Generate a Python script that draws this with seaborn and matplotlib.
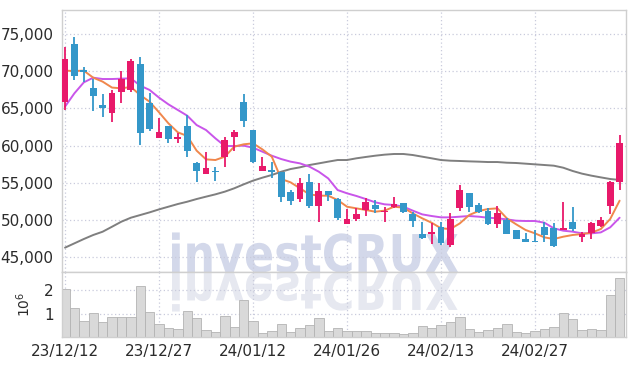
import numpy as np
import pandas as pd
import matplotlib
matplotlib.use("Agg")
import matplotlib.pyplot as plt
import seaborn as sns
from matplotlib.textpath import TextPath
from matplotlib.patches import PathPatch
from matplotlib.font_manager import FontProperties
from matplotlib import transforms
from matplotlib.ticker import FuncFormatter

# trading days
dates = ["23/12/12", "23/12/13", "23/12/14", "23/12/15", "23/12/18", "23/12/19", "23/12/20",
         "23/12/21", "23/12/22", "23/12/26", "23/12/27", "23/12/28", "24/01/02", "24/01/03",
         "24/01/04", "24/01/05", "24/01/08", "24/01/09", "24/01/10", "24/01/11", "24/01/12",
         "24/01/15", "24/01/16", "24/01/17", "24/01/18", "24/01/19", "24/01/22", "24/01/23",
         "24/01/24", "24/01/25", "24/01/26", "24/01/29", "24/01/30", "24/01/31", "24/02/01",
         "24/02/02", "24/02/05", "24/02/06", "24/02/07", "24/02/08", "24/02/13", "24/02/14",
         "24/02/15", "24/02/16", "24/02/19", "24/02/20", "24/02/21", "24/02/22", "24/02/23",
         "24/02/26", "24/02/27", "24/02/28", "24/02/29", "24/03/04", "24/03/05", "24/03/06",
         "24/03/07", "24/03/08", "24/03/11", "24/03/12"]

# prices in thousands of won
open_ = [65.9, 73.66, 70.16, 67.8, 65.46, 64.34, 67.25, 67.48, 70.97, 65.73,
         61.07, 62.64, 60.94, 62.68, 57.71, 56.19, 56.6, 58.52, 61.2, 65.86,
         62.1, 56.64, 56.73, 56.42, 53.82, 52.79, 55.16, 51.94, 53.95, 52.83,
         49.47, 50.1, 51.35, 52.03, 51.04, 51.8, 52.25, 50.82, 48.13, 48.13,
         49.12, 46.65, 51.58, 53.6, 52.03, 51.22, 49.47, 50.0, 48.67, 47.41,
         47.19, 49.12, 48.98, 48.67, 49.7, 47.68, 48.31, 49.25, 51.94, 55.07]
high = [73.3, 74.55, 70.5, 69.0, 66.9, 67.5, 70.07, 71.7, 71.95, 67.03,
        63.76, 62.64, 61.65, 64.12, 57.85, 59.15, 57.1, 61.2, 62.1, 66.9,
        62.1, 58.52, 57.85, 56.42, 54.04, 55.6, 56.15, 54.94, 53.95, 53.0,
        51.44, 51.58, 53.0, 52.7, 51.8, 53.06, 52.25, 51.13, 49.79, 49.56,
        49.79, 50.9, 54.71, 53.6, 52.25, 51.67, 51.94, 50.24, 48.67, 48.31,
        48.67, 49.79, 49.56, 52.48, 51.71, 48.35, 49.68, 50.45, 55.3, 61.43]
low = [64.8, 68.8, 68.6, 64.65, 63.85, 63.2, 65.7, 67.25, 60.1, 61.97,
       60.98, 60.31, 60.31, 58.43, 55.16, 56.15, 55.2, 57.18, 59.28, 62.55,
       57.62, 56.64, 55.7, 52.48, 52.04, 52.48, 51.65, 49.7, 52.56, 50.0,
       49.47, 49.88, 50.6, 50.9, 49.79, 51.67, 50.9, 49.03, 47.42, 46.83,
       46.65, 46.43, 51.27, 51.13, 51.0, 49.34, 48.9, 48.13, 47.5, 47.0,
       47.0, 47.0, 46.34, 48.67, 48.53, 47.1, 47.44, 49.12, 50.77, 54.04]
close = [71.64, 69.4, 69.85, 66.7, 65.1, 67.03, 68.9, 71.4, 61.74, 62.28,
         61.83, 60.94, 61.16, 59.33, 56.64, 56.94, 56.4, 60.76, 61.88, 63.36,
         57.85, 57.27, 56.5, 53.15, 52.61, 54.94, 51.88, 53.95, 53.37, 50.24,
         50.15, 50.82, 52.39, 51.49, 51.27, 52.16, 51.13, 49.92, 47.65, 48.35,
         46.97, 50.15, 54.04, 51.8, 51.13, 49.47, 50.9, 48.13, 47.5, 47.1,
         47.1, 48.0, 46.57, 48.98, 48.8, 48.13, 49.55, 50.0, 55.16, 60.4]

# moving averages
ma_short = [70.07, 70.03, 70.07, 69.13, 68.6, 67.8, 67.7, 67.88, 66.8, 65.9,
            64.48, 63.0, 61.79, 61.3, 59.33, 58.16, 58.07, 58.52, 59.86, 60.18,
            60.31, 59.5, 58.52, 55.52, 55.07, 54.27, 53.46, 53.28, 53.28, 52.7,
            51.8, 51.58, 51.36, 51.13, 51.27, 51.8, 51.67, 50.9, 50.24, 49.65,
            48.9, 48.8, 49.56, 50.68, 51.22, 51.49, 51.58, 50.24, 49.43, 48.67,
            48.22, 47.68, 47.46, 47.77, 48.0, 48.13, 48.31, 48.8, 50.15, 52.61]
ma_mid = [65.24, 67.03, 68.5, 69.13, 68.95, 68.95, 69.0, 69.04, 68.06, 67.48,
          66.45, 65.55, 64.79, 64.03, 62.77, 62.1, 60.98, 59.95, 59.95, 60.0,
          59.73, 59.19, 58.65, 58.2, 57.85, 57.62, 57.18, 56.5, 55.6, 54.04,
          53.6, 53.24, 52.83, 52.39, 52.12, 52.03, 51.8, 51.27, 50.77, 50.55,
          50.37, 50.37, 50.46, 50.55, 50.46, 50.32, 50.24, 50.1, 49.92, 49.88,
          49.88, 49.65, 48.9, 48.58, 48.45, 48.22, 48.22, 48.35, 49.03, 50.32]
ma_long = [46.3, 46.88, 47.46, 48.0, 48.44, 49.11, 49.79, 50.32, 50.68, 51.04,
           51.44, 51.8, 52.16, 52.47, 52.83, 53.15, 53.46, 53.82, 54.27, 54.8,
           55.3, 55.7, 56.06, 56.5, 56.86, 57.09, 57.4, 57.62, 57.85, 58.07,
           58.07, 58.3, 58.48, 58.65, 58.79, 58.88, 58.88, 58.74, 58.52, 58.3,
           58.07, 57.98, 57.94, 57.89, 57.85, 57.8, 57.8, 57.71, 57.67, 57.58,
           57.49, 57.4, 57.31, 57.04, 56.6, 56.24, 55.97, 55.74, 55.52, 55.39]

# volume in millions of shares
volume = [2.05, 1.23, 0.69, 1.03, 0.64, 0.84, 0.84, 0.84, 2.17, 1.06,
          0.54, 0.37, 0.33, 1.10, 0.80, 0.29, 0.20, 0.89, 0.42, 1.57,
          0.67, 0.16, 0.26, 0.54, 0.20, 0.37, 0.50, 0.80, 0.26, 0.37,
          0.26, 0.26, 0.26, 0.17, 0.17, 0.17, 0.13, 0.17, 0.46, 0.39,
          0.52, 0.64, 0.84, 0.36, 0.23, 0.29, 0.39, 0.56, 0.23, 0.17,
          0.26, 0.36, 0.44, 1.03, 0.77, 0.30, 0.36, 0.30, 1.80, 2.52]

df = pd.DataFrame({"date": dates, "open": open_, "high": high, "low": low, "close": close,
                   "ma5": ma_short, "ma10": ma_mid, "ma60": ma_long, "vol": volume})
for c in ["open", "high", "low", "close", "ma5", "ma10", "ma60"]:
    df[c] = df[c] * 1000
df["x"] = np.arange(len(df))

UP = "#e8196a"
DOWN = "#3497c9"
GRID = "#c9cbdc"
SPINE = "#cfcfcf"
TXT = "#2b2b2b"

sns.set_theme(style="white")
plt.rcParams["font.family"] = ["Liberation Sans Narrow", "DejaVu Sans"]

fig = plt.figure(figsize=(6.34, 3.66), dpi=100)
ax = fig.add_axes([62 / 634, 94 / 366, 564 / 634, 262 / 366])
axv = fig.add_axes([62 / 634, 29 / 366, 564 / 634, 65 / 366], sharex=ax)

# watermark with reflection
fp = FontProperties(family="DejaVu Sans", weight="bold")
tp = TextPath((0, 0), "investCRUX", size=100, prop=fp)
bb = tp.get_extents()
sx = 286 / bb.width
sy = 38 / 73.0
wm = transforms.Affine2D().translate(-bb.x0, 0).scale(sx, sy).translate(172, 94)
ax.add_patch(PathPatch(tp, transform=wm, facecolor="#d3d8ea", edgecolor="none",
                       zorder=0.5, clip_on=False))
rf = transforms.Affine2D().translate(-bb.x0, 0).scale(sx, -sy).translate(172, 94)
axv.add_patch(PathPatch(tp, transform=rf, facecolor="#e6e8f0", edgecolor="none",
                        zorder=0.5, clip_on=True))

# moving averages
sns.lineplot(data=df, x="x", y="ma60", ax=ax, color="#7f7f7f", lw=1.4, zorder=2)
sns.lineplot(data=df, x="x", y="ma10", ax=ax, color="#c955ea", lw=1.4, zorder=2)
sns.lineplot(data=df, x="x", y="ma5", ax=ax, color="#f0874c", lw=1.4, zorder=2)

# candles
up = df["close"] >= df["open"]
cols = np.where(up, UP, DOWN)
body_lo = np.minimum(df["open"], df["close"])
body_h = np.maximum((df["close"] - df["open"]).abs(), 120)
ax.vlines(df["x"], df["low"], df["high"], colors=cols, lw=1.3, zorder=3)
ax.bar(df["x"], body_h, bottom=body_lo, width=0.72, color=cols, linewidth=0, zorder=4)

ax.set_xlim(-0.32, 59.68)
ax.set_ylim(43030, 78220)
ax.set_yticks([45000, 50000, 55000, 60000, 65000, 70000, 75000])
ax.yaxis.set_major_formatter(FuncFormatter(lambda v, p: f"{int(v):,}"))
ax.set_xlabel("")
ax.set_ylabel("")

# volume
sns.barplot(data=df, x="x", y="vol", ax=axv, native_scale=True, width=1.0,
            color="#d9d9d9", saturation=1, edgecolor="#b3b3b3", linewidth=0.6, zorder=2)
axv.set_ylim(0, 2.79)
axv.set_yticks([1, 2])
axv.set_ylabel(r"$10^6$", fontsize=10, color=TXT, family="DejaVu Serif", labelpad=8)
axv.set_xlabel("")

ticks = [0, 10, 20, 30, 40, 50]
axv.set_xticks(ticks)
axv.set_xticklabels([dates[i] for i in ticks])
axv.set_xlim(-0.32, 59.68)
plt.setp(ax.get_xticklabels(), visible=False)

for a in (ax, axv):
    a.grid(True, color=GRID, linestyle=(0, (1, 2)), linewidth=0.9)
    a.set_axisbelow(True)
    for s in a.spines.values():
        s.set_color(SPINE)
        s.set_linewidth(1)
    a.tick_params(length=0, colors=TXT, labelsize=11, pad=6)
axv.tick_params(axis="x", pad=5)

fig.savefig("out.png", dpi=100)
